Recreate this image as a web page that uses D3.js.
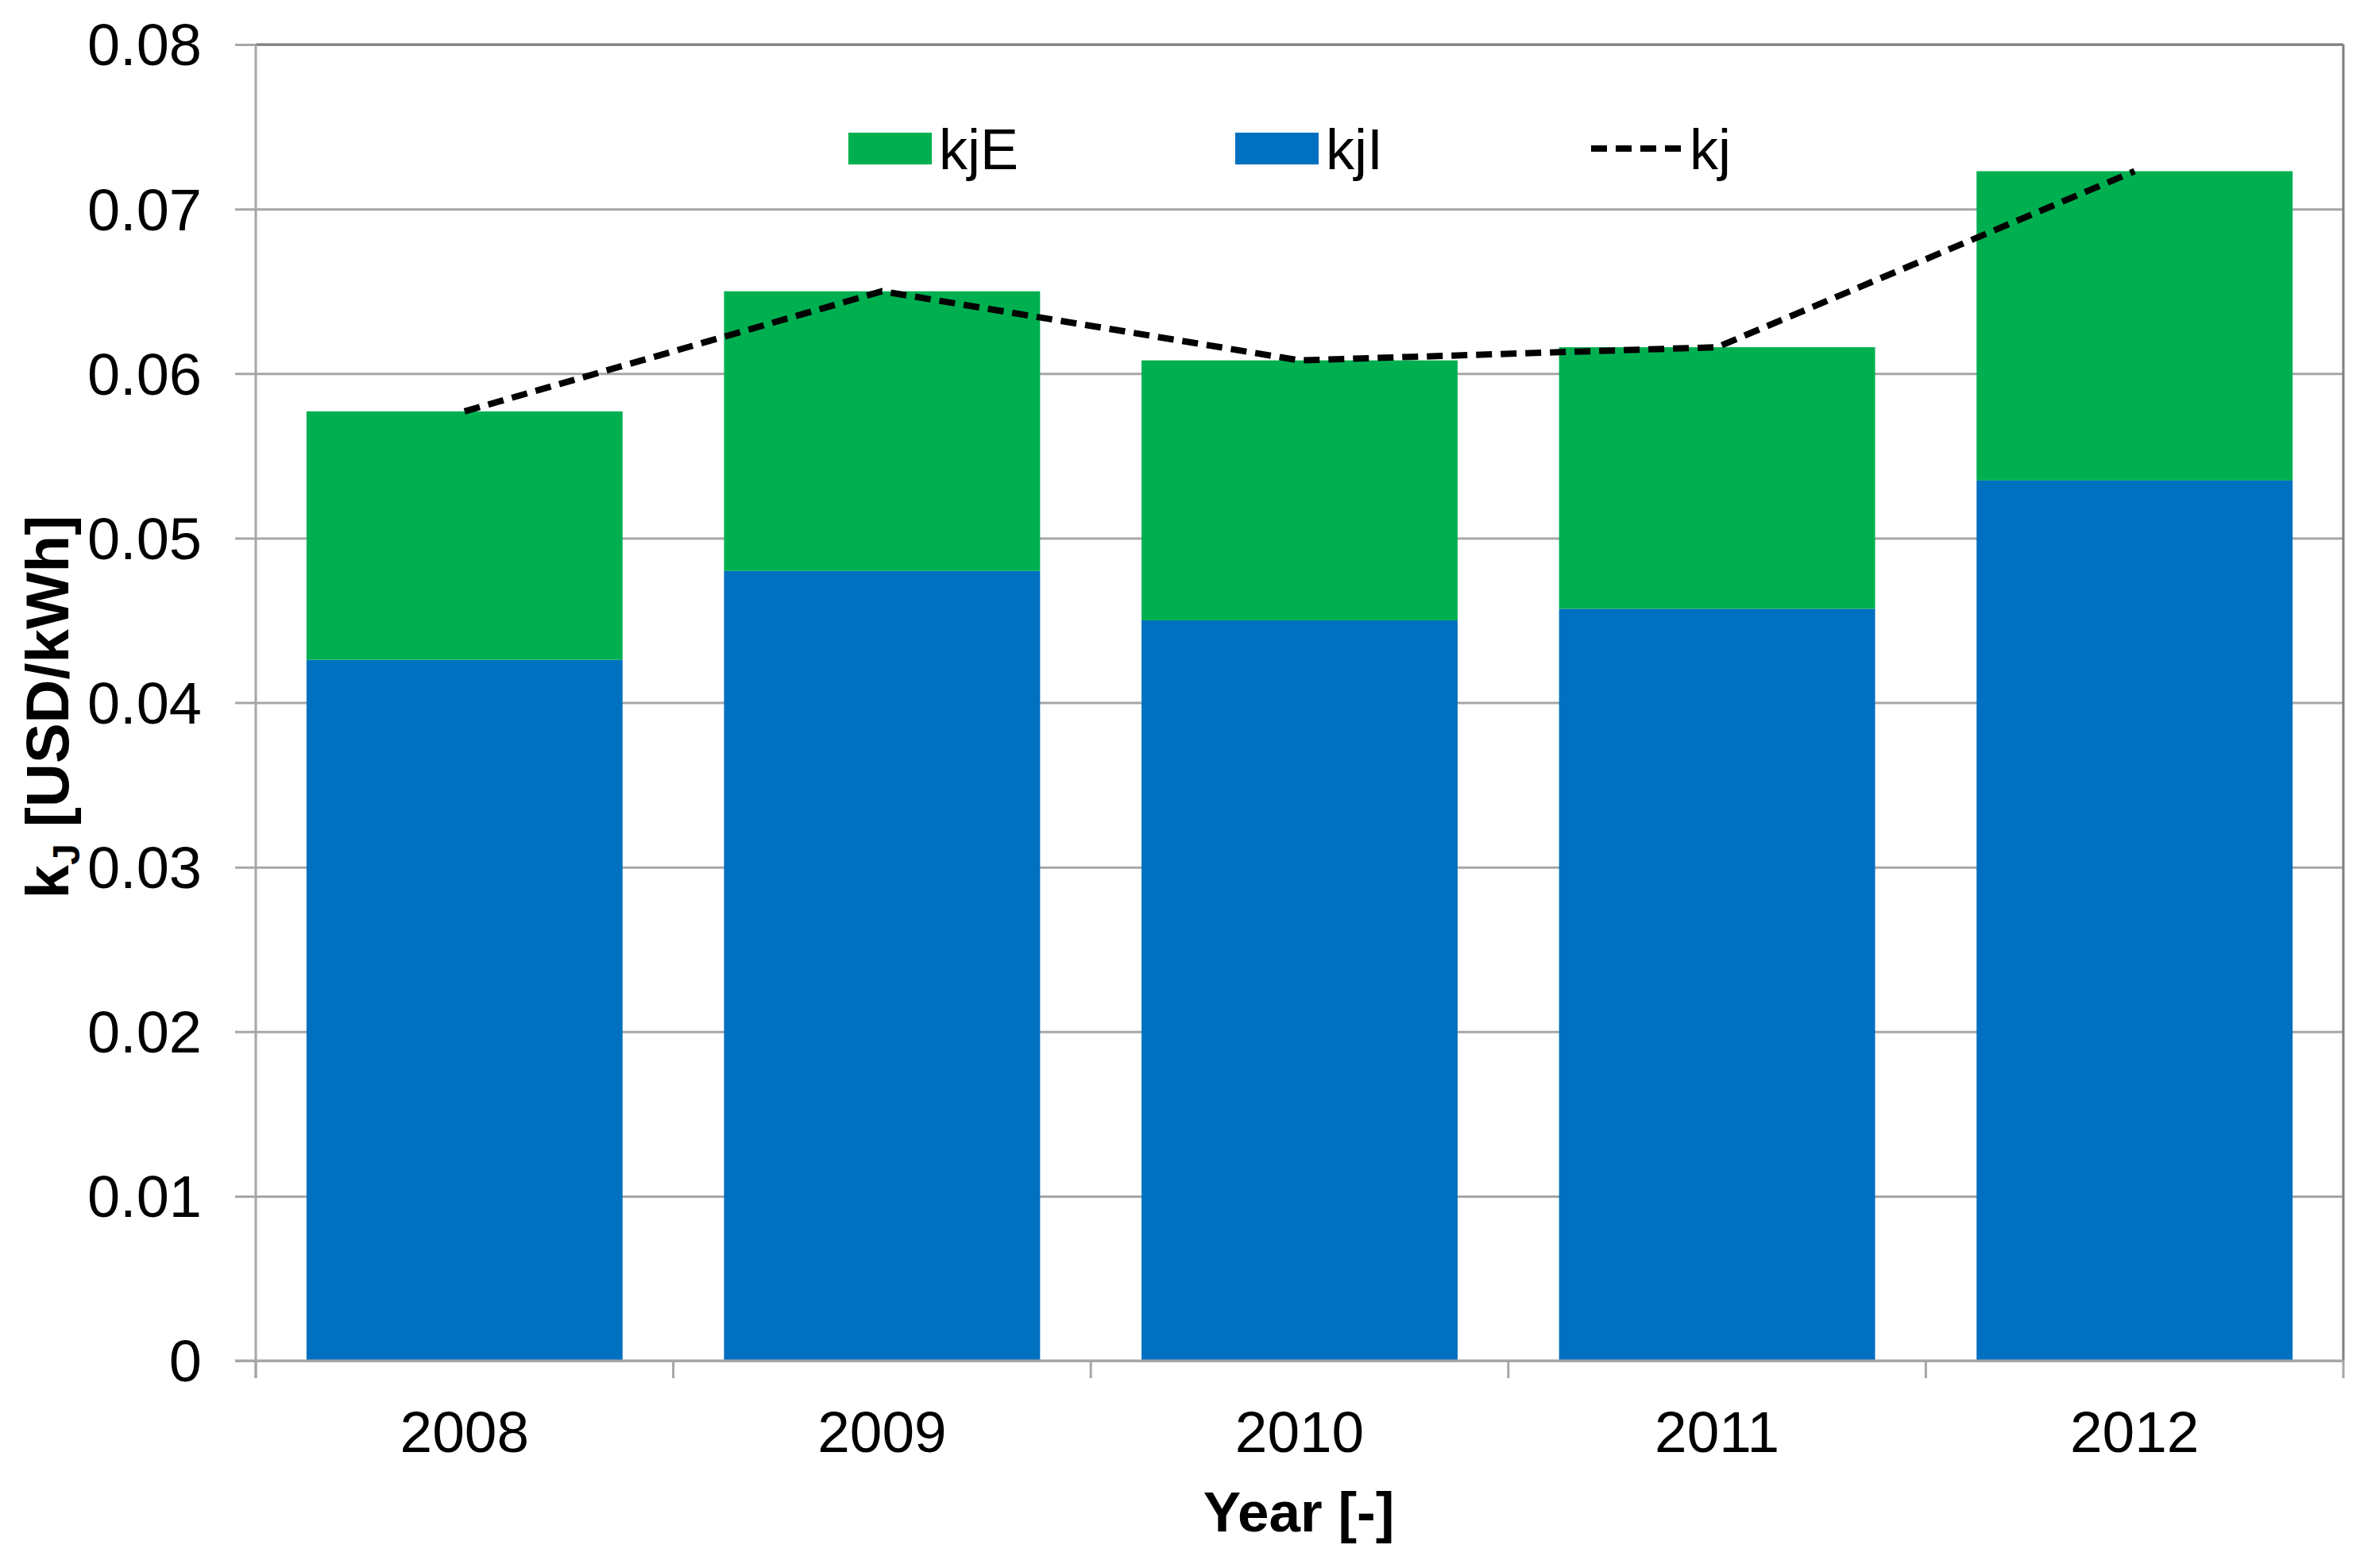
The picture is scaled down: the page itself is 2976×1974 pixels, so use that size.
<!DOCTYPE html>
<html>
<head>
<meta charset="utf-8">
<script src="https://cdn.jsdelivr.net/npm/d3@7"></script>
<style>
  body { margin: 0; background: #fff; }
  text { font-family: "Liberation Sans", Arial, sans-serif; fill: #000; }
</style>
</head>
<body>
<svg id="chart"></svg>
<script>
// data
var years = ["2008", "2009", "2010", "2011", "2012"];
var kjI = [0.0426, 0.0480, 0.0450, 0.0457, 0.0535];
var kjE = [0.0151, 0.0170, 0.0158, 0.0159, 0.0188];
var kj = [0.0577, 0.0650, 0.0608, 0.0616, 0.0723];
var yTicks = [0, 0.01, 0.02, 0.03, 0.04, 0.05, 0.06, 0.07, 0.08];
var yTickLabels = ["0", "0.01", "0.02", "0.03", "0.04", "0.05", "0.06", "0.07", "0.08"];

var W = 2976, H = 1974;
var plotL = 322, plotR = 2950, plotT = 56, plotB = 1713;

var svg = d3.select("#chart").attr("width", W).attr("height", H);

var x = d3.scaleBand()
    .domain(years)
    .range([plotL, plotR])
    .paddingInner(0.243)
    .paddingOuter(0.1215);

var y = d3.scaleLinear()
    .domain([0, 0.08])
    .range([plotB, plotT]);

// gridlines + y ticks
var yAxis = d3.axisLeft(y)
    .tickValues(yTicks)
    .tickSize(-(plotR - plotL))
    .tickPadding(42)
    .tickFormat(function (d, i) { return yTickLabels[i]; });

var gy = svg.append("g")
    .attr("transform", `translate(${plotL},0)`)
    .call(yAxis);
gy.select(".domain").remove();
gy.selectAll(".tick line")
    .attr("x1", -26)
    .attr("stroke", "#a6a6a6")
    .attr("stroke-width", 3);
gy.selectAll(".tick text")
    .attr("font-size", 74)
    .attr("font-family", "Liberation Sans, Arial, sans-serif")
    .attr("x", -68)
    .attr("dy", "0.35em");

// plot border (top / right darker)
svg.append("line")
    .attr("x1", plotL).attr("x2", plotR).attr("y1", plotT).attr("y2", plotT)
    .attr("stroke", "#7f7f7f").attr("stroke-width", 3);
svg.append("line")
    .attr("x1", plotR).attr("x2", plotR).attr("y1", plotT).attr("y2", plotB)
    .attr("stroke", "#7f7f7f").attr("stroke-width", 3);

// stacked bars
var stackData = years.map(function (yr, i) {
    return { year: yr, kjI: kjI[i], kjE: kjE[i] };
});
var series = d3.stack().keys(["kjI", "kjE"])(stackData);
var colors = { kjI: "#0070c0", kjE: "#00b050" };

svg.append("g")
    .selectAll("g")
    .data(series)
    .join("g")
    .attr("fill", function (d) { return colors[d.key]; })
    .selectAll("rect")
    .data(function (d) { return d; })
    .join("rect")
    .attr("x", function (d) { return x(d.data.year); })
    .attr("y", function (d) { return y(d[1]); })
    .attr("width", x.bandwidth())
    .attr("height", function (d) { return y(d[0]) - y(d[1]); });

// left axis line
svg.append("line")
    .attr("x1", plotL).attr("x2", plotL).attr("y1", plotT).attr("y2", plotB + 22)
    .attr("stroke", "#a6a6a6").attr("stroke-width", 3);

// x axis: baseline, ticks between categories
svg.append("line")
    .attr("x1", plotL - 26).attr("x2", plotR).attr("y1", plotB).attr("y2", plotB)
    .attr("stroke", "#a6a6a6").attr("stroke-width", 3);

var step = x.step();
var bounds = d3.range(years.length + 1).map(function (i) { return plotL + i * step; });
svg.append("g")
    .selectAll("line")
    .data(bounds)
    .join("line")
    .attr("x1", function (d) { return d; })
    .attr("x2", function (d) { return d; })
    .attr("y1", plotB)
    .attr("y2", plotB + 22)
    .attr("stroke", "#a6a6a6")
    .attr("stroke-width", 3);

svg.append("g")
    .selectAll("text")
    .data(years)
    .join("text")
    .attr("x", function (d) { return x(d) + x.bandwidth() / 2; })
    .attr("y", 1828)
    .attr("text-anchor", "middle")
    .attr("font-size", 73)
    .text(function (d) { return d; });

// kj dashed line
var line = d3.line()
    .x(function (d, i) { return x(years[i]) + x.bandwidth() / 2; })
    .y(function (d) { return y(d); });

svg.append("path")
    .datum(kj)
    .attr("d", line)
    .attr("fill", "none")
    .attr("stroke", "#000")
    .attr("stroke-width", 8)
    .attr("stroke-dasharray", "20,11");

// axis titles
svg.append("text")
    .attr("x", 1635)
    .attr("y", 1928)
    .attr("text-anchor", "middle")
    .attr("font-size", 71)
    .attr("font-weight", "bold")
    .text("Year [-]");

var yt = svg.append("text")
    .attr("transform", "translate(86,890) rotate(-90)")
    .attr("text-anchor", "middle")
    .attr("font-size", 76)
    .attr("font-weight", "bold");
yt.append("tspan").text("k");
yt.append("tspan").attr("font-size", 48).attr("dy", 14).text("J");
yt.append("tspan").attr("dy", -14).text("  [USD/kWh]");

// legend
var legend = [
    { label: "kjE", type: "rect", color: colors.kjE, x: 1068 },
    { label: "kjI", type: "rect", color: colors.kjI, x: 1555 },
    { label: "kj", type: "line", color: "#000", x: 2003 }
];
var lg = svg.append("g")
    .selectAll("g")
    .data(legend)
    .join("g")
    .attr("transform", function (d) { return `translate(${d.x},187)`; });

lg.filter(function (d) { return d.type === "rect"; })
    .append("rect")
    .attr("x", 0).attr("y", -20)
    .attr("width", 105).attr("height", 40)
    .attr("fill", function (d) { return d.color; });

lg.filter(function (d) { return d.type === "line"; })
    .append("line")
    .attr("x1", 0).attr("x2", 118).attr("y1", 0).attr("y2", 0)
    .attr("stroke", "#000")
    .attr("stroke-width", 8)
    .attr("stroke-dasharray", "20,11");

lg.append("text")
    .attr("x", function (d) { return d.type === "line" ? 124 : 114; })
    .attr("y", 26)
    .attr("font-size", 72)
    .text(function (d) { return d.label; });
</script>
</body>
</html>
